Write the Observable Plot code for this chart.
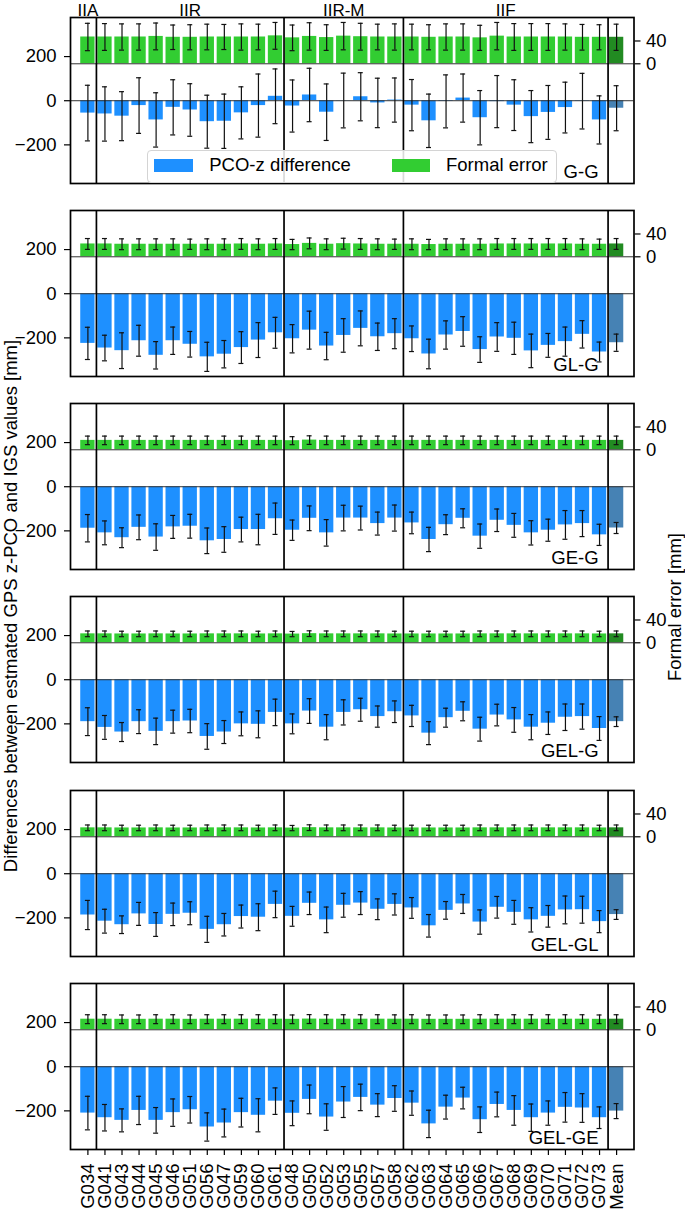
<!DOCTYPE html>
<html>
<head>
<meta charset="utf-8">
<script src="https://cdn.jsdelivr.net/npm/d3@7"></script>
<script src="https://cdn.jsdelivr.net/npm/@observablehq/plot@0.6"></script>
<style>
html, body { margin: 0; padding: 0; background: #fff; }
#chart { position: relative; width: 685px; height: 1210px; overflow: hidden; background: #fff;
  font-family: "Liberation Sans", Arial, Helvetica, sans-serif; color: #000; }
#chart svg { position: absolute; left: 0; overflow: visible; }
.lbl { position: absolute; white-space: nowrap; font-size: 18.5px; line-height: 1; }
.rot { transform: translate(-50%, -50%) rotate(-90deg); }
.legend { position: absolute; box-sizing: border-box; border: 1px solid #d4d4d4; border-radius: 4px;
  background: rgba(255,255,255,0.85); }
.sw { position: absolute; }
</style>
</head>
<body>
<div id="chart"></div>
<script>
// ---------- data ----------
const satellites = ["G034","G041","G043","G044","G045","G046","G051","G056","G047","G059","G060","G061",
  "G048","G050","G052","G053","G055","G057","G058",
  "G062","G063","G064","G065","G066","G067","G068","G069","G070","G071","G072","G073","Mean"];

const blockNames = ["IIA", "IIR", "IIR-M", "IIF"];
const blockFirst = ["G034", "G041", "G048", "G062"];
const blockLast  = ["G034", "G061", "G058", "G073"];

const panelNames = ["G-G", "GL-G", "GE-G", "GEL-G", "GEL-GL", "GEL-GE"];

const legendLabels = ["PCO-z difference", "Formal error"];
const leftTitle = "Differences between estmated GPS z-PCO and IGS values [mm]";
const rightTitle = "Formal error [mm]";
const leftTicks = [-200, 0, 200];
const rightTicks = [0, 40];

// PCO-z difference [mm] and its error bar half-length
const diffGG   = [-56,-60,-70,-22,-87,-30,-42,-95,-93,-55,-22,20, -24,26,-52,1,18,-10,3, -20,-91,-3,12,-77,-4,-20,-72,-53,-31,-2,-87,-34];
const errGG    = [126,123,111,126,123,125,119,120,123,118,143,124, 118,121,128,124,109,112,100, 116,121,120,109,123,118,115,118,122,115,126,109,102];
const diffGLG  = [-225,-246,-258,-213,-279,-213,-229,-286,-274,-244,-210,-177, -204,-165,-237,-189,-157,-195,-181, -204,-273,-187,-171,-253,-196,-202,-259,-234,-217,-184,-264,-222];
const errGLG   = [73,58,81,70,62,62,58,66,62,72,79,70, 64,86,62,76,79,62,68, 58,67,64,67,58,65,73,76,54,66,62,45,39];
const diffGEG  = [-188,-209,-231,-184,-228,-182,-179,-245,-239,-194,-194,-145, -197,-143,-209,-142,-142,-167,-142, -164,-239,-172,-143,-224,-152,-175,-209,-197,-173,-167,-218,-187];
const errGEG   = [62,54,45,56,60,52,54,58,58,56,69,71, 46,56,60,58,54,52,59, 49,55,45,43,55,51,54,55,50,65,59,48,25];
const diffGELG = [-190,-216,-237,-190,-234,-190,-187,-257,-237,-200,-202,-148, -200,-142,-215,-148,-136,-167,-145, -164,-242,-172,-143,-224,-160,-182,-215,-197,-170,-167,-221,-190];
const errGELG  = [63,54,43,54,60,52,53,58,52,54,61,60, 45,56,57,57,52,48,49, 48,52,43,43,54,49,56,57,51,60,57,54,22];
const diffGELGL= [-187,-215,-231,-182,-230,-184,-179,-252,-231,-194,-197,-139, -193,-134,-209,-143,-133,-161,-139, -155,-236,-166,-137,-219,-152,-175,-209,-193,-164,-163,-217,-185];
const errGELGL = [66,54,40,52,54,51,52,59,51,52,61,60, 45,51,58,54,52,47,48, 47,51,40,43,55,49,54,55,49,63,61,50,22];
const diffGELGE= [-210,-231,-243,-198,-243,-208,-195,-273,-255,-208,-220,-156, -211,-148,-228,-160,-139,-174,-144, -165,-259,-183,-142,-240,-171,-198,-231,-210,-184,-187,-231,-201];
const errGELGE = [76,60,52,64,58,62,60,64,63,65,75,60, 56,65,60,70,60,52,58, 55,62,54,49,58,56,67,62,55,67,65,49,34];

// Formal error [mm] and its error bar half-length
const formalGG    = [47,47,47,47,48,46.5,46.5,47,47,47,47,49, 45.5,48,46,48.5,47.5,47,47, 47,46.5,47,47,45.5,48.5,47,47,47,47,46.5,46.5,46.5];
const formalErrGG = [24,23.5,23,23,23.5,21.5,22,22.5,22,23,22.5,23.5, 22.5,24,22.5,24,23.5,22.5,23, 22.5,22,23,23,22,24,23.5,23.5,23.5,23,22.5,22,23];
const formalGLG    = [22.5,22.5,22,22,22,22,22,22,22,22.5,22,22.5, 21.5,23.5,22,23,22.5,22,22, 22,21.5,22,22,22,22.5,22.5,22.5,22.5,22.5,22,22,22.5];
const formalErrGLG = [9.5,9.5,9.5,9.5,9.5,9.5,9,9.5,9.5,9.5,9.5,9.5, 9,9.5,9.5,9.5,9.5,9.5,9, 9.5,9,9.5,9.5,9.5,9.5,9.5,9.5,9.5,9.5,9.5,9,9.5];
const formalGEG    = [16.5,16.5,16.5,16.5,16.5,16.5,16.5,16.5,16.5,16.5,16.5,16.5, 16,17,16.5,16.5,16.5,16.5,16.5, 16.5,16.5,16.5,16.5,16.5,16.5,16.5,16.5,16.5,16.5,16.5,16.5,16.5];
const formalErrGEG = [7.5,7.5,7.5,7.5,7.5,7.5,7.5,7.5,7.5,7.5,7.5,7.5, 7,7.5,7.5,7.5,7.5,7.5,7.5, 7.5,7.5,7.5,7.5,7.5,7.5,7.5,7.5,7.5,7.5,7.5,7.5,7.5];
const formalGELG    = [15.7,15.7,15.5,15.5,15.7,15.5,15.5,15.7,15.7,15.7,15.5,15.7, 15.3,16,15.7,15.7,15.7,15.7,15.5, 15.5,15.5,15.5,15.5,15.7,15.7,15.7,15.7,15.7,15.7,15.7,15.5,15.7];
const formalErrGELG = [5,5,4.8,4.8,5,4.8,4.8,5,5,5,4.8,5, 4.6,5,5,5,5,5,4.8, 4.8,4.8,4.8,4.8,5,5,5,5,5,5,5,4.8,5];
const formalGELGL    = [15.7,15.7,15.5,15.5,15.7,15.5,15.5,15.7,15.7,15.7,15.5,15.7, 15.3,16,15.7,15.7,15.7,15.7,15.5, 15.5,15.5,15.5,15.5,15.7,15.7,15.7,15.7,15.7,15.7,15.7,15.5,15.7];
const formalErrGELGL = [5,5,4.8,4.8,5,4.8,4.8,5,5,5,4.8,5, 4.6,5,5,5,5,5,4.8, 4.8,4.8,4.8,4.8,5,5,5,5,5,5,5,4.8,5];
const formalGELGE    = [18.6,18.6,18.4,18.4,18.6,18.6,18.4,18.6,18.6,18.6,18.6,18.6, 18.4,18.8,18.6,18.6,18.6,18.6,18.6, 18.6,18.4,18.4,18.4,18.6,18.6,18.6,18.6,18.6,18.6,18.6,18.4,18.6];
const formalErrGELGE = [7.8,7.8,7.6,7.6,7.8,7.8,7.6,7.8,7.8,7.8,7.8,7.8, 7.6,7.8,7.8,7.8,7.8,7.8,7.6, 7.8,7.6,7.6,7.6,7.8,7.8,7.8,7.8,7.8,7.8,7.8,7.6,7.8];

const diffSeries   = [diffGG, diffGLG, diffGEG, diffGELG, diffGELGL, diffGELGE];
const diffErrs     = [errGG, errGLG, errGEG, errGELG, errGELGL, errGELGE];
const formalSeries = [formalGG, formalGLG, formalGEG, formalGELG, formalGELGL, formalGELGE];
const formalErrs   = [formalErrGG, formalErrGLG, formalErrGEG, formalErrGELG, formalErrGELGL, formalErrGELGE];

// ---------- layout / style ----------
const W = 685, ML = 70, MR = 51.5, MT = 20, FRAME_H = 166;
const PANEL_TOP0 = 16.7, PANEL_STEP = 193.2;
const PAD_IN = 0.16, PAD_OUT = 0.6;
const BLUE = "#1e90ff", BLUE_MEAN = "#4682b4", GREEN = "#32cd32", GREEN_MEAN = "#228b22";
const FONT = "\"Liberation Sans\", Arial, Helvetica, sans-serif";
const FS = "18.5px";
const n = satellites.length;
const step = (W - ML - MR) / (n - PAD_IN + 2 * PAD_OUT);
const bw = step * (1 - PAD_IN);
const capInset = (bw - 5) / 2;
const fmt = d => d < 0 ? "\u2212" + (-d) : String(d);

const chart = document.getElementById("chart");

function xScale(showAxis) {
  return {type: "band", domain: satellites, paddingInner: PAD_IN, paddingOuter: PAD_OUT, align: 0.5, round: false,
    ...(showAxis ? {} : {axis: null})};
}

function place(svg, top) {
  svg.style.top = top + "px";
  chart.appendChild(svg);
}

panelNames.forEach((name, k) => {
  const frameTop = PANEL_TOP0 + PANEL_STEP * k;
  const last = k === panelNames.length - 1;
  const MB = last ? 61 : 8;
  const H = MT + FRAME_H + MB;
  const rows = satellites.map((s, i) => ({
    sat: s, v: diffSeries[k][i], e: diffErrs[k][i], f: formalSeries[k][i], fe: formalErrs[k][i]
  }));
  const isMean = d => d.sat === "Mean";
  const notMean = d => d.sat !== "Mean";
  const common = {
    width: W, height: H, marginLeft: ML, marginRight: MR, marginTop: MT, marginBottom: MB,
    style: {background: "transparent", fontFamily: FONT, fontSize: FS, color: "#000", overflow: "visible"}
  };

  // formal-error layer (right axis)
  const green = Plot.plot({
    ...common,
    x: xScale(false),
    y: {domain: [-210, 81.2]},
    marks: [
      Plot.barY(rows, {filter: notMean, x: "sat", y1: 0, y2: "f", fill: GREEN}),
      Plot.barY(rows, {filter: isMean, x: "sat", y1: 0, y2: "f", fill: GREEN_MEAN}),
      Plot.ruleY([0], {stroke: "#333", strokeWidth: 1}),
      Plot.ruleX(rows, {x: "sat", y1: d => d.f - d.fe, y2: d => d.f + d.fe, stroke: "#111", strokeWidth: 1.2}),
      Plot.tickY(rows, {x: "sat", y: d => d.f - d.fe, stroke: "#111", strokeWidth: 1.2, insetLeft: capInset, insetRight: capInset}),
      Plot.tickY(rows, {x: "sat", y: d => d.f + d.fe, stroke: "#111", strokeWidth: 1.2, insetLeft: capInset, insetRight: capInset}),
      Plot.axisY({anchor: "right", ticks: rightTicks, tickSize: 6, tickPadding: 6, label: null, tickFormat: fmt,
        stroke: "#000", strokeWidth: 1.2})
    ]
  });
  place(green, frameTop - MT);

  // difference layer (left axis)
  const marks = [
    Plot.barY(rows, {filter: notMean, x: "sat", y1: 0, y2: "v", fill: BLUE}),
    Plot.barY(rows, {filter: isMean, x: "sat", y1: 0, y2: "v", fill: BLUE_MEAN}),
    Plot.ruleY([0], {stroke: "#333", strokeWidth: 1}),
    Plot.ruleX(rows, {x: "sat", y1: d => d.v - d.e, y2: d => d.v + d.e, stroke: "#111", strokeWidth: 1.2}),
    Plot.tickY(rows, {x: "sat", y: d => d.v - d.e, stroke: "#111", strokeWidth: 1.2, insetLeft: capInset, insetRight: capInset}),
    Plot.tickY(rows, {x: "sat", y: d => d.v + d.e, stroke: "#111", strokeWidth: 1.2, insetLeft: capInset, insetRight: capInset}),
    Plot.ruleX(blockLast, {dx: step / 2, stroke: "#000", strokeWidth: 1.7}),
    Plot.frame({stroke: "#000", strokeWidth: 1.7}),
    Plot.text([name], {x: () => "G073", frameAnchor: "bottom", lineAnchor: "bottom", textAnchor: "end", dx: -1, dy: -6,
      fill: "#000", fontSize: 18.5}),
    Plot.axisY({anchor: "left", ticks: leftTicks, tickSize: 6, tickPadding: 8, label: null, tickFormat: fmt,
      stroke: "#000", strokeWidth: 1.2})
  ];
  if (k === 0) {
    blockNames.forEach((b, j) => {
      const i0 = satellites.indexOf(blockFirst[j]);
      const i1 = satellites.indexOf(blockLast[j]);
      marks.push(Plot.text([b], {x: () => blockFirst[j], frameAnchor: "top", lineAnchor: "bottom",
        dx: (i1 - i0) / 2 * step, dy: -1.4, fill: "#000", fontSize: 17}));
    });
  }
  if (last) {
    marks.push(Plot.axisX({anchor: "bottom", tickRotate: -90, tickSize: 6, tickPadding: 8, label: null,
      stroke: "#000", strokeWidth: 1.2}));
  }
  const blue = Plot.plot({
    ...common,
    x: xScale(last),
    y: {domain: [-375, 377]},
    marks
  });
  place(blue, frameTop - MT);
});

// legend (first panel)
const legend = document.createElement("div");
legend.className = "legend";
Object.assign(legend.style, {left: "146.7px", top: "150px", width: "410px", height: "32.5px"});
const legendItems = [
  {label: legendLabels[0], color: BLUE, sx: 6.6, tx: 61.6},
  {label: legendLabels[1], color: GREEN, sx: 244, tx: 298.3}
];
legendItems.forEach(it => {
  const sw = document.createElement("div");
  sw.className = "sw";
  Object.assign(sw.style, {left: it.sx + "px", top: "8.3px", width: "38.4px", height: "12.4px", background: it.color});
  legend.appendChild(sw);
  const t = document.createElement("div");
  t.className = "lbl";
  t.textContent = it.label;
  Object.assign(t.style, {left: it.tx + "px", top: "5px"});
  legend.appendChild(t);
});
chart.appendChild(legend);

// axis titles
function title(text, cx, cy) {
  const d = document.createElement("div");
  d.className = "lbl rot";
  d.textContent = text;
  Object.assign(d.style, {left: cx + "px", top: cy + "px"});
  chart.appendChild(d);
}
title(leftTitle, 10.5, 605.5);
title(rightTitle, 674.5, 606.7);
</script>
</body>
</html>
